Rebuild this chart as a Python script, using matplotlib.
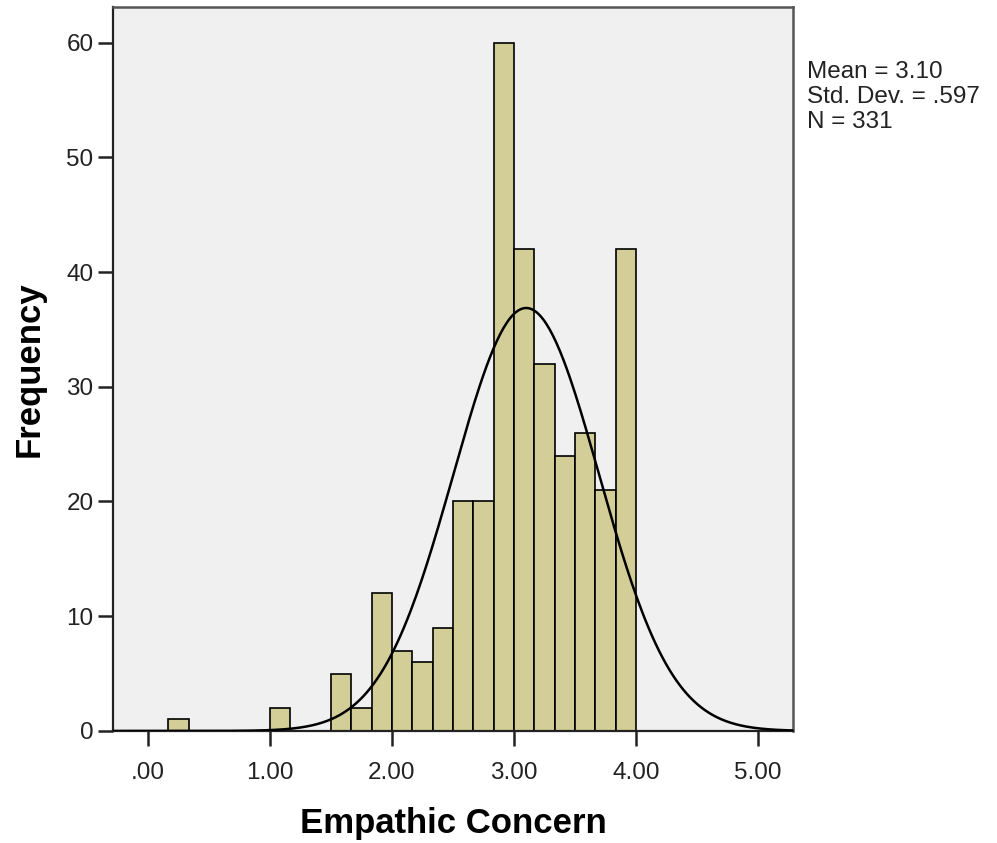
import matplotlib.pyplot as plt
import numpy as np

plt.rcParams["font.family"] = ["Liberation Sans", "DejaVu Sans"]

# histogram bins (width 1/6), lower edges in units of 1/6
bin_index = [1, 6, 9, 10, 11, 12, 13, 14, 15, 16, 17, 18, 19, 20, 21, 22, 23]
counts = [1, 2, 5, 2, 12, 7, 6, 9, 20, 20, 60, 42, 32, 24, 26, 21, 42]
bin_width = 1 / 6

mean = 3.10
std = 0.597
n_obs = 331

xticks = [0, 1, 2, 3, 4, 5]
xtick_labels = [".00", "1.00", "2.00", "3.00", "4.00", "5.00"]
yticks = [0, 10, 20, 30, 40, 50, 60]

fig = plt.figure(figsize=(9.97, 8.43), dpi=100)
ax = fig.add_axes([0.1133, 0.1329, 0.6821, 0.8588])
ax.set_facecolor("#F0F0F0")

lefts = np.array(bin_index) * bin_width
ax.bar(lefts, counts, width=bin_width, align="edge", color="#D3CE97",
       edgecolor="black", linewidth=1.2, zorder=2)

# normal curve scaled to counts
xs = np.linspace(-0.3, 5.3, 400)
pdf = np.exp(-0.5 * ((xs - mean) / std) ** 2) / (std * np.sqrt(2 * np.pi))
ax.plot(xs, pdf * n_obs * bin_width, color="black", linewidth=1.8, zorder=3)

ax.set_xlim(-0.287, 5.287)
ax.set_ylim(0, 63.1)
ax.set_xticks(xticks)
ax.set_xticklabels(xtick_labels)
ax.set_yticks(yticks)
ax.tick_params(axis="both", direction="out", length=11, width=1.8,
               labelsize=17.5, colors="#222222")
ax.tick_params(axis="x", pad=11)
ax.tick_params(axis="y", pad=3)

for side in ["left", "bottom"]:
    ax.spines[side].set_color("#222222")
    ax.spines[side].set_linewidth(1.6)
for side in ["top", "right"]:
    ax.spines[side].set_color("#555555")
    ax.spines[side].set_linewidth(1.8)

ax.set_xlabel("Empathic Concern", fontsize=25, fontweight="bold", labelpad=17)
ax.set_ylabel("Frequency", fontsize=25, fontweight="bold", labelpad=15)

fig.text(0.809, 0.885, f"Mean = {mean:.2f}\nStd. Dev. = .597\nN = {n_obs}",
         fontsize=17.5, va="center", ha="left", linespacing=1.2, color="#222222")

fig.savefig("out.png", dpi=100)
